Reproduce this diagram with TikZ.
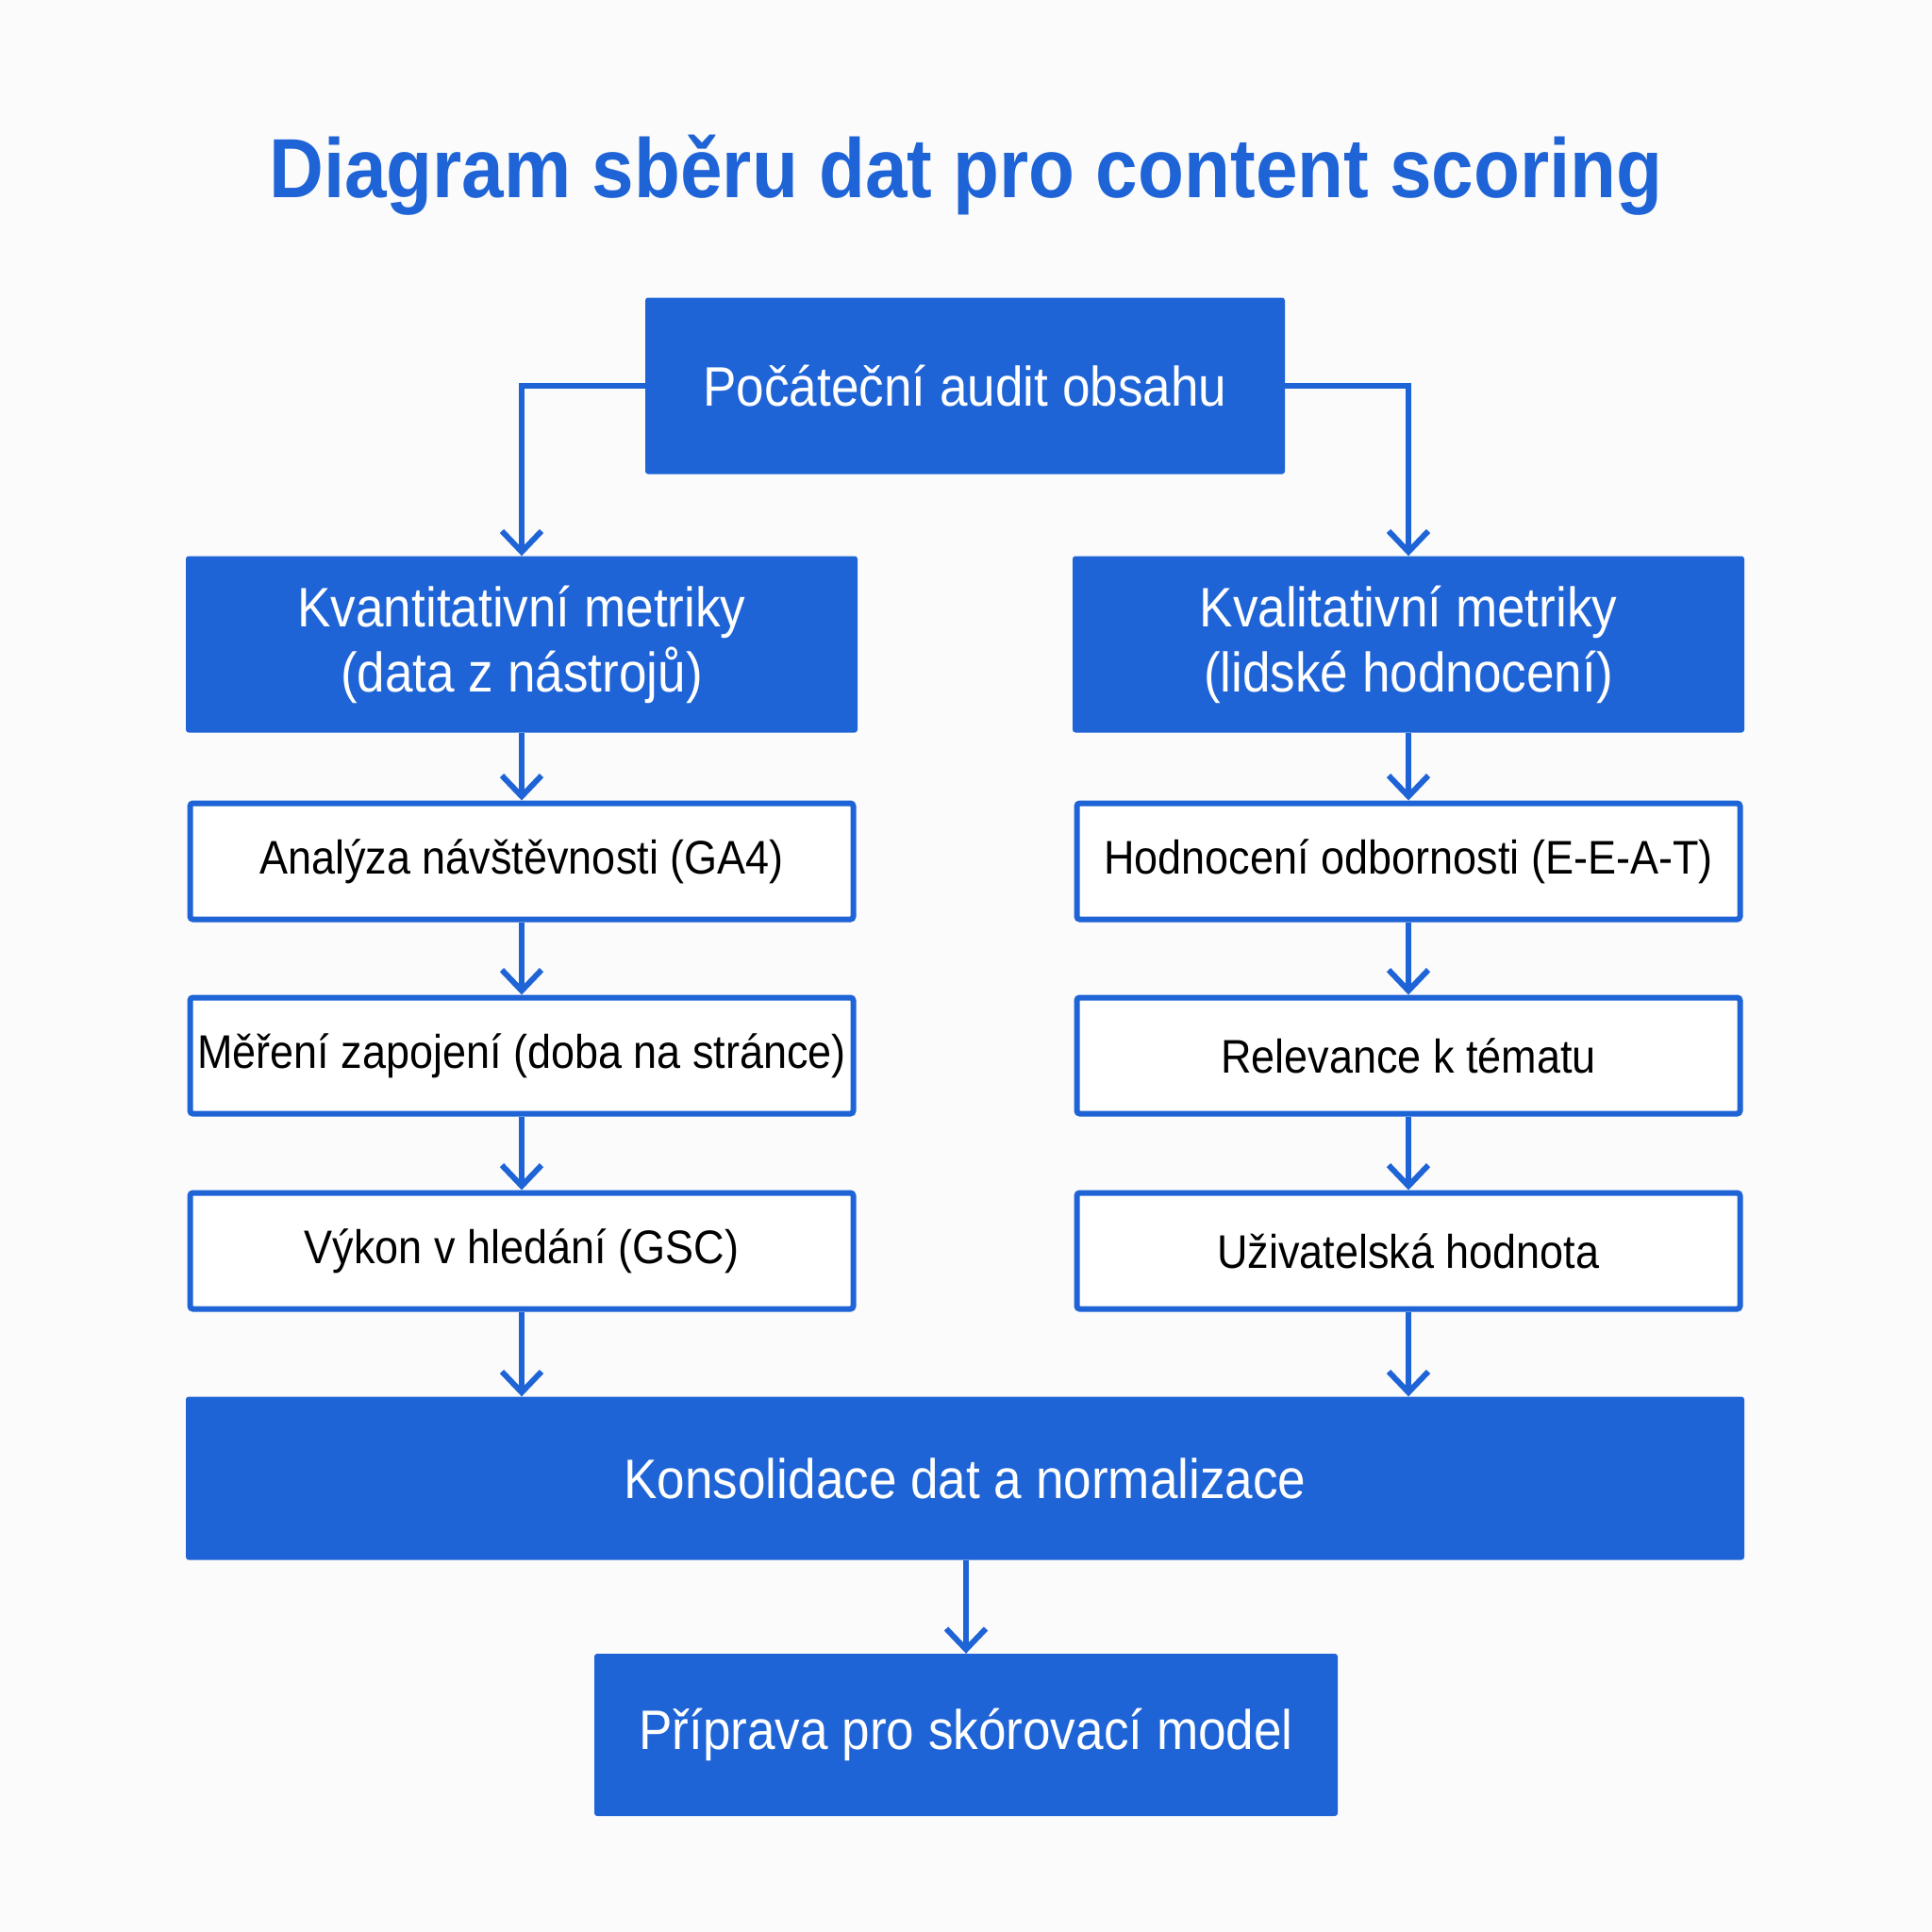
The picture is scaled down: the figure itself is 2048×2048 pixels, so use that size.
\documentclass[tikz,border=0pt]{standalone}
\usepackage{fontspec}
\setmainfont[FakeStretch=0.9]{Liberation Sans}
\usetikzlibrary{arrows.meta}
\definecolor{mblue}{RGB}{31,100,214}
\definecolor{bgc}{RGB}{251,251,251}
\begin{document}
\begin{tikzpicture}[x=1pt,y=-1pt,
  bluebox/.style={fill=mblue, draw=none, text=white, inner sep=0pt, align=center, rounded corners=3pt},
  whitebox/.style={fill=white, draw=mblue, line width=6pt, text=black, inner sep=0pt, align=center,
    rounded corners=3pt, minimum width=703pt, minimum height=123pt, font=\fontsize{50}{60}\selectfont},
  arr/.style={draw=mblue, line width=6pt, -{Straight Barb[length=22pt,width=42pt,line width=6pt]}}
]
\fill[bgc] (0,0) rectangle (2048,2048);
\useasboundingbox (0,0) rectangle (2048,2048);

\node[text=mblue, font=\fontsize{89}{100}\selectfont\bfseries] (title) at (1024,186) {Diagram sběru dat pro content scoring};

\node[bluebox, minimum width=678pt, minimum height=187pt, font=\fontsize{59}{70}\selectfont] (top) at (1023,409) {Počáteční audit obsahu};

\node[bluebox, minimum width=712pt, minimum height=187pt, font=\fontsize{59}{69}\selectfont] (q) at (553,683) {Kvantitativní metriky\\(data z nástrojů)};
\node[bluebox, minimum width=712pt, minimum height=187pt, font=\fontsize{59}{69}\selectfont] (k) at (1493,683) {Kvalitativní metriky\\(lidské hodnocení)};

\node[whitebox] (q1) at (553,913) {Analýza návštěvnosti (GA4)};
\node[whitebox] (q2) at (553,1119) {Měření zapojení (doba na stránce)};
\node[whitebox] (q3) at (553,1326) {Výkon v hledání (GSC)};

\node[whitebox] (k1) at (1493,913) {Hodnocení odbornosti (E-E-A-T)};
\node[whitebox] (k2) at (1493,1119) {Relevance k tématu};
\node[whitebox] (k3) at (1493,1326) {Uživatelská hodnota};

\node[bluebox, minimum width=1652pt, minimum height=173pt, font=\fontsize{59}{70}\selectfont] (kon) at (1023,1567) {Konsolidace dat a normalizace};

\node[bluebox, minimum width=788pt, minimum height=172pt, font=\fontsize{59}{70}\selectfont] (fin) at (1024,1839) {Příprava pro skórovací model};

\draw[arr] (top.west) -| (q.north);
\draw[arr] (top.east) -| (k.north);
\draw[arr] (q.south) -- (q1.north);
\draw[arr] (q1.south) -- (q2.north);
\draw[arr] (q2.south) -- (q3.north);
\draw[arr] (k.south) -- (k1.north);
\draw[arr] (k1.south) -- (k2.north);
\draw[arr] (k2.south) -- (k3.north);
\draw[arr] (q3.south) -- (q3.south |- kon.north);
\draw[arr] (k3.south) -- (k3.south |- kon.north);
\draw[arr] (kon.south -| fin.north) -- (fin.north);
\end{tikzpicture}
\end{document}
